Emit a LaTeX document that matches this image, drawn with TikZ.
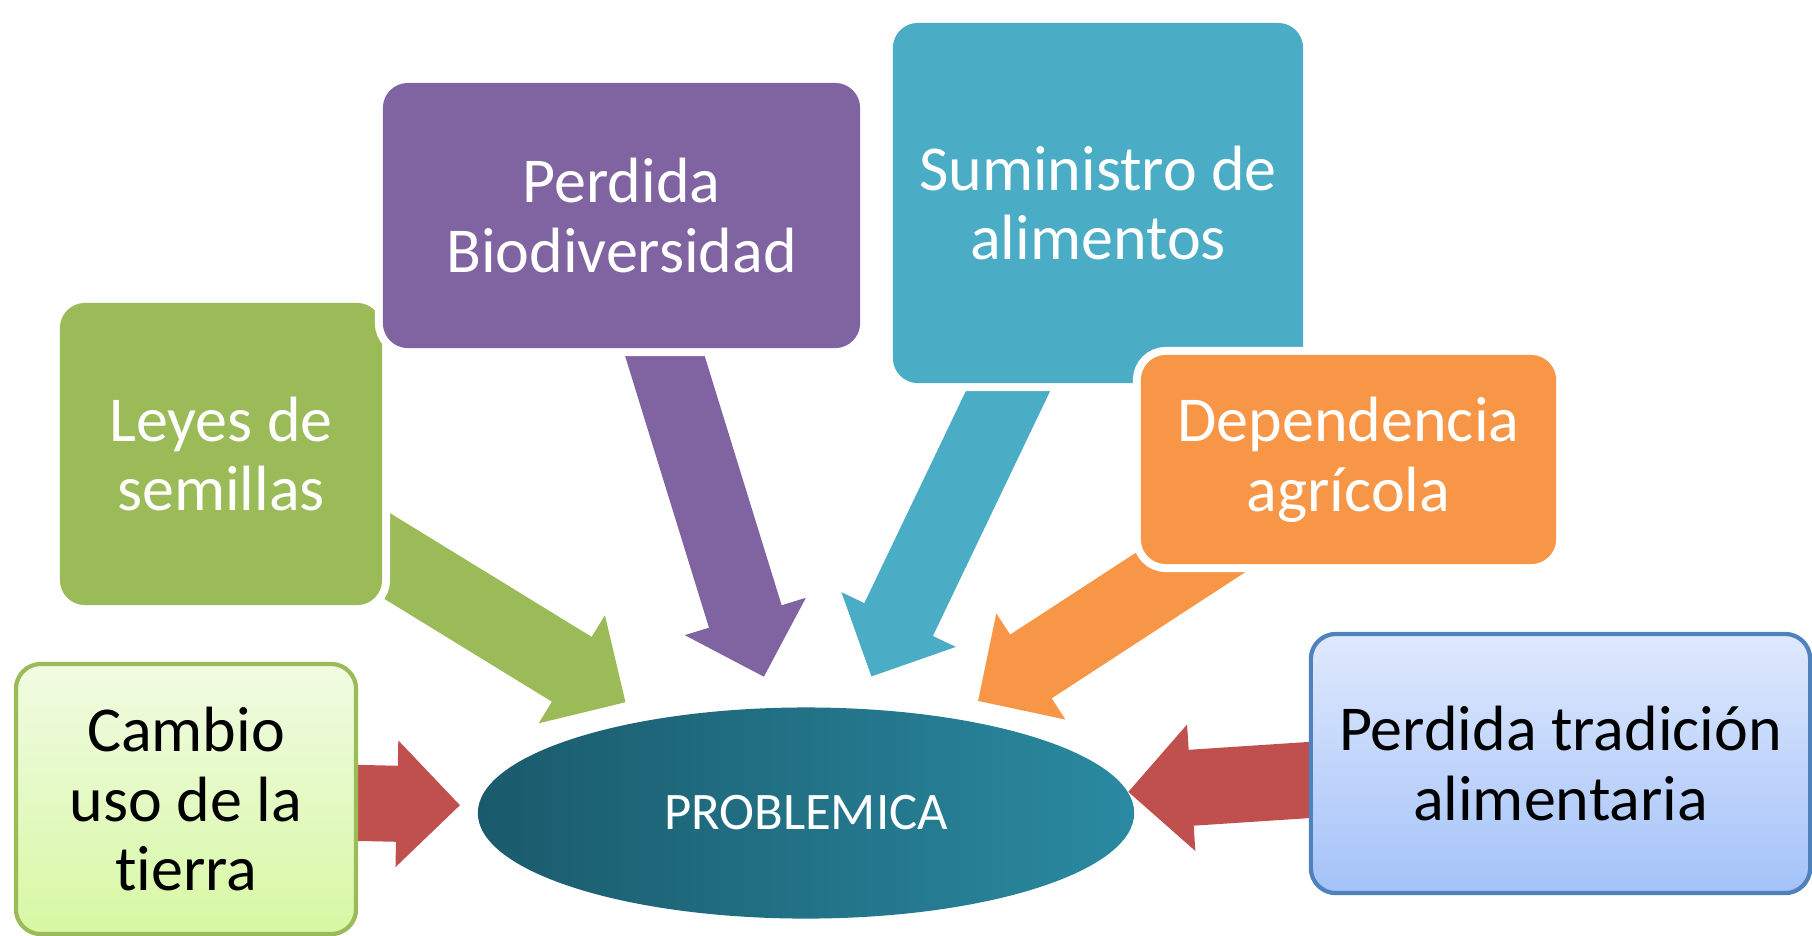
\documentclass[tikz,border=0pt]{standalone}
\usepackage{fontspec}
\setmainfont{Carlito}[Ligatures=NoCommon]
\usetikzlibrary{arrows.meta,backgrounds,shapes.geometric}

\definecolor{verde}{HTML}{9BBB59}
\definecolor{morado}{HTML}{8064A2}
\definecolor{celeste}{HTML}{4BACC6}
\definecolor{naranja}{HTML}{F79646}
\definecolor{rojo}{HTML}{C0504D}
\definecolor{azulborde}{HTML}{4F81BD}
\definecolor{verdetop}{HTML}{F1FBE3}
\definecolor{verdebot}{HTML}{D7F8A3}
\definecolor{azultop}{HTML}{DFE9FD}
\definecolor{azulbot}{HTML}{A4C2F9}
\definecolor{tealizq}{HTML}{1A5A6C}
\definecolor{tealder}{HTML}{2A8AA1}

\tikzset{
    caja/.style={rectangle, rounded corners=0.25cm, inner sep=0pt, align=center,
        font=\fontsize{18.2}{19.9}\selectfont},
    halo/.style={preaction={draw=white, line width=0.16cm}},
    flecha/.style={line width=0.76cm,
        -{Triangle[length=0.63cm, width=1.26cm, line width=1pt]}},
}

\begin{document}
\begin{tikzpicture}[x=0.01cm, y=-0.01cm]
            \useasboundingbox (0,0) rectangle (1812,935);

            \node[ellipse, inner sep=0pt, minimum width=6.56cm, minimum height=2.11cm,
                left color=tealizq, right color=tealder, text=white,
                font=\fontsize{15}{18}\selectfont] (problema) at (806,813) {PROBLEMICA};

            \node[caja, halo, fill=verde, text=white, minimum width=3.22cm, minimum height=3.02cm]
                (leyes) at (221,454) {Leyes de\\semillas};
            \node[caja, halo, fill=morado, text=white, minimum width=4.77cm, minimum height=2.65cm]
                (biodiv) at (621.5,215.5) {Perdida\\Biodiversidad};
            \node[caja, halo, fill=celeste, text=white, minimum width=4.10cm, minimum height=3.60cm]
                (suministro) at (1098,203) {Suministro de\\alimentos};
            \node[caja, halo, fill=naranja, text=white, minimum width=4.15cm, minimum height=2.09cm]
                (dependencia) at (1348.5,459.5) {Dependencia\\agrícola};

            \node[caja, draw=verde, line width=1.2pt, top color=verdetop, bottom color=verdebot,
                minimum width=3.40cm, minimum height=2.70cm] (cambio) at (186,799) {Cambio\\uso de la\\tierra};
            \node[caja, draw=azulborde, line width=1.2pt, top color=azultop, bottom color=azulbot,
                minimum width=4.99cm, minimum height=2.59cm] (tradicion) at (1560.5,763.5)
                {Perdida tradición\\alimentaria};

            \begin{scope}[on background layer]
                \draw[flecha, verde, shorten >=0.32cm] (leyes.center) -- (problema);
                \draw[flecha, morado, shorten >=0.32cm] (biodiv.center) -- (problema);
                \draw[flecha, celeste, shorten >=0.35cm] (suministro.center) -- (problema);
                \draw[flecha, naranja, shorten >=0.31cm] (dependencia.center) -- (problema);
                \draw[flecha, rojo, shorten >=0.18cm] (cambio.center) -- (problema);
                \draw[flecha, rojo] (tradicion.center) -- (problema);
            \end{scope}

        \end{tikzpicture}
\end{document}
